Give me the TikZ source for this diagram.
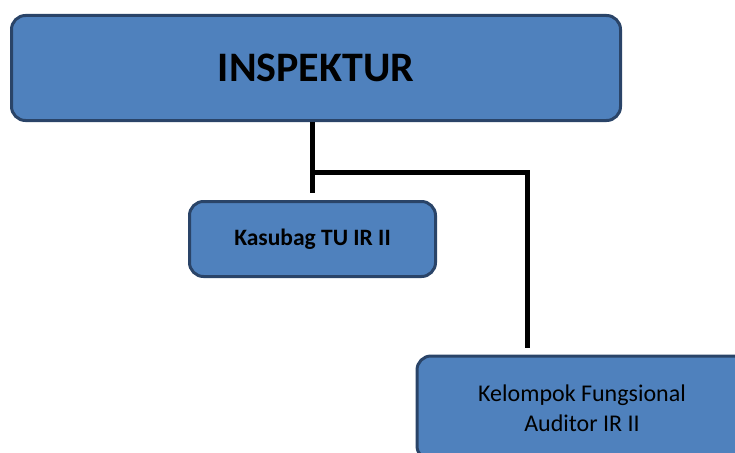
\documentclass[tikz,border=0pt]{standalone}
\usepackage{fontspec}
\setmainfont{Carlito}
\usepackage{tikz}
\usetikzlibrary{positioning}
\definecolor{kotak}{HTML}{4F81BD}
\definecolor{garis}{HTML}{2A4468}

\begin{document}
\begin{tikzpicture}[x=1pt,y=1pt,semithick]
\tikzstyle{every node}=[text=black]
\tikzstyle{jabatan}=[draw=garis,fill=kotak,line width=3pt,rounded corners=14pt,inner sep=0pt,align=center]
\tikzstyle{konektor}=[line width=5pt,line cap=butt]

        \clip (0,0) rectangle (735,-452);
        \useasboundingbox (0,0) rectangle (735,-452);

        \node[jabatan,minimum width=609pt,minimum height=105pt,font=\fontsize{42pt}{48pt}\selectfont\bfseries]   (inspektur) at (316,-68)    {INSPEKTUR};
        \node[jabatan,minimum width=246pt,minimum height=75pt,font=\fontsize{23.5pt}{28pt}\selectfont\bfseries]  (kasubag)   at (312.5,-239) {Kasubag TU IR II};
        \node[jabatan,minimum width=330pt,minimum height=104pt,font=\fontsize{24pt}{30pt}\selectfont]            (kelompok)  at (582,-408)   {Kelompok Fungsional\\Auditor IR II};

        \coordinate (cabang) at (inspektur.south -| kasubag.north);
        \coordinate (siku)   at (527,-172);

        \draw[konektor] (cabang) -- ([yshift=7pt]kasubag.north);
        \draw[konektor] (cabang |- siku) -- (siku) -- ([yshift=7pt]kelompok.north -| siku);

\end{tikzpicture}
\end{document}
